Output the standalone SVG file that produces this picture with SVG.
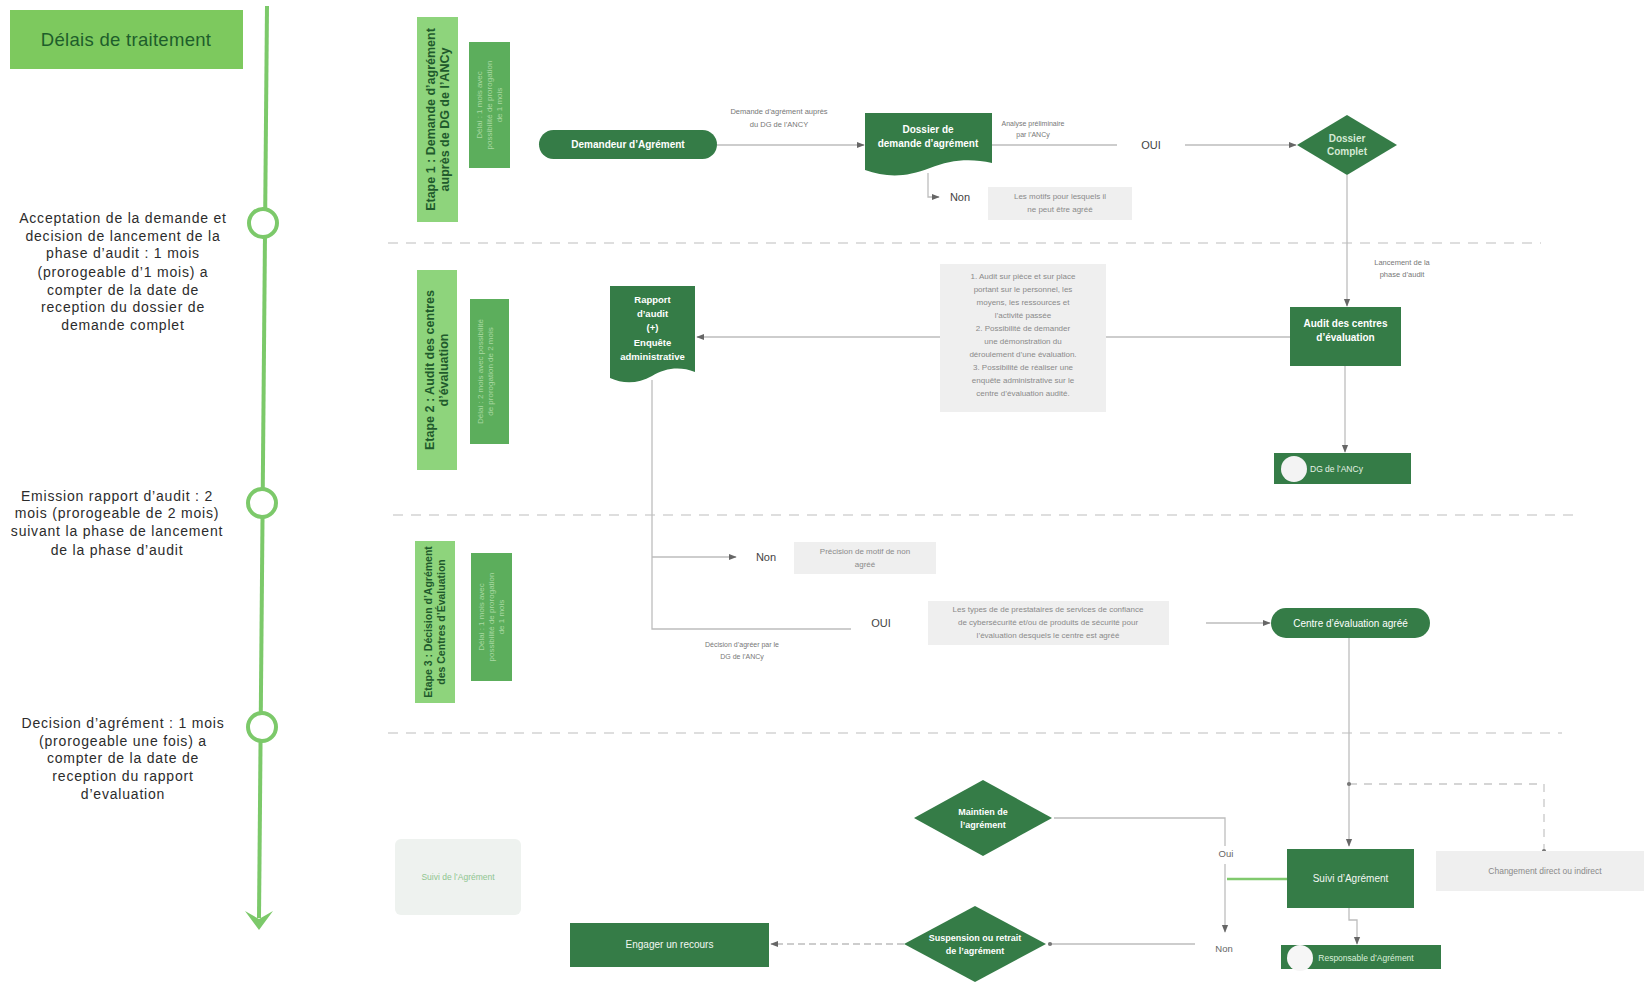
<svg xmlns="http://www.w3.org/2000/svg" width="1644" height="983" viewBox="0 0 1644 983">
<defs>
<style>
text{font-family:"Liberation Sans",Arial,sans-serif}
.node{fill:#357c47}
.nt{fill:#ffffff;font-size:10px;font-weight:bold;text-anchor:middle}
.ntl{fill:#f2f7f2;font-size:10px;text-anchor:middle}
.note{fill:#efefef}
.nn{fill:#8a8a8a;font-size:8px;text-anchor:middle}
.lbl{fill:#777;font-size:7.5px;text-anchor:middle}
.yn{fill:#444;font-size:11px;text-anchor:middle}
.conn{fill:none;stroke:#bdbdbd;stroke-width:1.3}
.sep{fill:none;stroke:#d4d4d4;stroke-width:1.3;stroke-dasharray:10 8}
.left{fill:#2c2c2c;font-size:14px;letter-spacing:0.8px;text-anchor:middle}
.stage{fill:#8ed47c}
.stage2{fill:#5cae5c}
.st{fill:#1f5a2c;font-size:12.5px;font-weight:bold;text-anchor:middle}
.st2{fill:#a9d9a2;font-size:8px;text-anchor:middle}
.tl{fill:#ffffff;stroke:#7cc96a;stroke-width:4}
</style>
<marker id="arr" viewBox="0 0 10 10" refX="9" refY="5" markerWidth="6" markerHeight="6" orient="auto-start-reverse">
<path d="M0,1 L10,5 L0,9 Z" fill="#666"/>
</marker>
<marker id="dot" viewBox="0 0 10 10" refX="5" refY="5" markerWidth="4" markerHeight="4">
<circle cx="5" cy="5" r="4" fill="#777"/>
</marker>
</defs>
<rect width="1644" height="983" fill="#ffffff"/>

<!-- Timeline -->
<g id="timeline">
<rect x="10" y="10" width="233" height="59" fill="#7dc95e"/>
<text x="126" y="46" style="font-size:18.5px;fill:#1d5e2b;text-anchor:middle;letter-spacing:0.3px">Délais de traitement</text>
<line x1="267" y1="6" x2="259" y2="918" stroke="#7cc96a" stroke-width="4"/>
<path d="M245,911 L259,930 L273,911 L259,919 Z" fill="#7cc96a"/>
<circle class="tl" cx="263" cy="223" r="14"/>
<circle class="tl" cx="262" cy="503" r="14"/>
<circle class="tl" cx="262" cy="727" r="14"/>
<text class="left" x="123" y="223">Acceptation de la demande et</text>
<text class="left" x="123" y="241">decision de lancement de la</text>
<text class="left" x="123" y="258">phase d’audit : 1 mois</text>
<text class="left" x="123" y="277">(prorogeable d’1 mois) a</text>
<text class="left" x="123" y="295">compter de la date de</text>
<text class="left" x="123" y="312">reception  du dossier de</text>
<text class="left" x="123" y="330">demande complet</text>
<text class="left" x="117" y="501">Emission rapport d’audit : 2</text>
<text class="left" x="117" y="518">mois (prorogeable de 2 mois)</text>
<text class="left" x="117" y="536">suivant la phase de lancement</text>
<text class="left" x="117" y="555">de la phase d’audit</text>
<text class="left" x="123" y="728">Decision d’agrément : 1 mois</text>
<text class="left" x="123" y="746">(prorogeable une fois) a</text>
<text class="left" x="123" y="763">compter de la date de</text>
<text class="left" x="123" y="781">reception  du rapport</text>
<text class="left" x="123" y="799">d’evaluation</text>
</g>

<!-- Separators -->
<g id="separators">
<line class="sep" x1="388" y1="243" x2="1541" y2="243"/>
<line class="sep" x1="393" y1="515" x2="1573" y2="515"/>
<line class="sep" x1="388" y1="733" x2="1562" y2="733"/>
</g>

<!-- Stage labels -->
<g id="stage1">
<rect class="stage" x="417" y="17" width="41" height="205"/>
<g transform="translate(437.5,119.5) rotate(-90)">
<text class="st" y="-3">Etape 1 : Demande d’agrément</text>
<text class="st" y="11">auprès de DG de l’ANCy</text>
</g>
<rect class="stage2" x="469" y="42" width="41" height="126"/>
<g transform="translate(489.5,105) rotate(-90)">
<text class="st2" y="-8">Délai : 1 mois avec</text>
<text class="st2" y="2">possibilité de prorogation</text>
<text class="st2" y="12">de 1 mois</text>
</g>
</g>
<g id="stage2">
<rect class="stage" x="417" y="270" width="40" height="200"/>
<g transform="translate(437,370) rotate(-90)">
<text class="st" y="-3">Etape 2 : Audit des centres</text>
<text class="st" y="11">d’évaluation</text>
</g>
<rect class="stage2" x="470" y="299" width="39" height="145"/>
<g transform="translate(489.5,371.5) rotate(-90)">
<text class="st2" y="-7">Délai : 2 mois avec possibilité</text>
<text class="st2" y="3">de prorogation de 2 mois</text>
</g>
</g>
<g id="stage3">
<rect class="stage" x="415" y="541" width="40" height="162"/>
<g transform="translate(435,622) rotate(-90)">
<text class="st" y="-3" style="font-size:10.5px">Etape 3 : Décision d’Agrément</text>
<text class="st" y="10" style="font-size:10.5px">des Centres d’Évaluation</text>
</g>
<rect class="stage2" x="471" y="553" width="41" height="128"/>
<g transform="translate(491.5,617) rotate(-90)">
<text class="st2" y="-8">Délai : 1 mois avec</text>
<text class="st2" y="2">possibilité de prorogation</text>
<text class="st2" y="12">de 1 mois</text>
</g>
</g>

<!-- Connectors -->
<g id="connectors">
<line class="conn" x1="717" y1="145" x2="864" y2="145" marker-end="url(#arr)"/>
<line class="conn" x1="992" y1="145" x2="1117" y2="145"/>
<line class="conn" x1="1185" y1="145" x2="1296" y2="145" marker-end="url(#arr)"/>
<path class="conn" d="M928,173 V197 H939" marker-end="url(#arr)"/>
<line class="conn" x1="1347" y1="175" x2="1347" y2="306" marker-end="url(#arr)"/>
<line class="conn" x1="1290" y1="337" x2="697" y2="337" marker-end="url(#arr)"/>
<line class="conn" x1="1345" y1="366" x2="1345" y2="452" marker-end="url(#arr)"/>
<path class="conn" d="M652,380 V629 H851"/>
<line class="conn" x1="652" y1="557" x2="736" y2="557" marker-end="url(#arr)"/>
<line class="conn" x1="1206" y1="623" x2="1270" y2="623" marker-end="url(#arr)"/>
<line class="conn" x1="1349" y1="638" x2="1349" y2="846" marker-end="url(#arr)"/>
<path d="M1349,784 H1544 V851" fill="none" stroke="#c8c8c8" stroke-width="1.3" stroke-dasharray="8 7" marker-start="url(#dot)" marker-end="url(#dot)"/>
<line x1="1287" y1="879" x2="1227" y2="879" stroke="#80c96e" stroke-width="2.5"/>
<path class="conn" d="M1054,818 H1225 V846"/>
<line class="conn" x1="1225" y1="864" x2="1225" y2="932" marker-end="url(#arr)"/>
<line class="conn" x1="1195" y1="944" x2="1050" y2="944" marker-end="url(#dot)"/>
<line class="conn" x1="904" y1="944" x2="771" y2="944" stroke-dasharray="7 4" marker-end="url(#arr)"/>
<path class="conn" d="M1349,908 V920 H1357 V944" marker-end="url(#arr)"/>
<text class="lbl" x="779" y="114">Demande d’agrément auprès</text>
<text class="lbl" x="779" y="127">du DG de l’ANCY</text>
<text class="lbl" x="1033" y="126" style="font-size:7px">Analyse préliminaire</text>
<text class="lbl" x="1033" y="137" style="font-size:7px">par l’ANCy</text>
<text class="yn" x="1151" y="149">OUI</text>
<text class="yn" x="960" y="201">Non</text>
<text class="lbl" x="1402" y="265">Lancement de la</text>
<text class="lbl" x="1402" y="277">phase d’audit</text>
<text class="yn" x="766" y="561">Non</text>
<text class="yn" x="881" y="627">OUI</text>
<text class="lbl" x="742" y="647" style="font-size:7px">Décision d’agréer par le</text>
<text class="lbl" x="742" y="659" style="font-size:7px">DG de l’ANCy</text>
<text class="yn" x="1226" y="857" style="font-size:9.5px;fill:#666">Oui</text>
<text class="yn" x="1224" y="952" style="font-size:9.5px;fill:#666">Non</text>
</g>

<!-- Nodes -->
<g id="demandeur">
<rect class="node" x="539" y="130" width="178" height="29" rx="14.5"/>
<text class="nt" x="628" y="148">Demandeur d’Agrément</text>
</g>
<g id="dossier">
<path class="node" d="M865,113 H992 V163 C970,158 950,160 930,168 C905,178 885,177 865,170 Z"/>
<text class="nt" x="928" y="133">Dossier de</text>
<text class="nt" x="928" y="147">demande d’agrément</text>
</g>
<g id="motifs">
<rect class="note" x="988" y="187" width="144" height="33"/>
<text class="nn" x="1060" y="199">Les motifs pour lesquels il</text>
<text class="nn" x="1060" y="212">ne peut être agréé</text>
</g>
<g id="dossier-complet">
<polygon class="node" points="1347,115 1397,145 1347,175 1297,145"/>
<text class="nt" x="1347" y="142" style="fill:#d4e9d4">Dossier</text>
<text class="nt" x="1347" y="155" style="fill:#d4e9d4">Complet</text>
</g>
<g id="audit">
<rect class="node" x="1290" y="307" width="111" height="59"/>
<text class="nt" x="1345.5" y="327">Audit des centres</text>
<text class="nt" x="1345.5" y="341">d’évaluation</text>
</g>
<g id="audit-note">
<rect class="note" x="940" y="264" width="166" height="148"/>
<text class="nn" x="1023" y="279">1.      Audit sur pièce et sur place</text>
<text class="nn" x="1023" y="292">portant sur le personnel, les</text>
<text class="nn" x="1023" y="305">moyens, les ressources et</text>
<text class="nn" x="1023" y="318">l’activité passée</text>
<text class="nn" x="1023" y="331">2.      Possibilité de demander</text>
<text class="nn" x="1023" y="344">une démonstration du</text>
<text class="nn" x="1023" y="357">déroulement d’une évaluation.</text>
<text class="nn" x="1023" y="370">3.      Possibilité de réaliser une</text>
<text class="nn" x="1023" y="383">enquête administrative sur le</text>
<text class="nn" x="1023" y="396">centre d’évaluation audité.</text>
</g>
<g id="rapport">
<path class="node" d="M610,286 H695 V372 C680,366 665,368 652,376 C638,384 623,384 610,378 Z"/>
<text class="nt" x="652.5" y="303" style="font-size:9.5px">Rapport</text>
<text class="nt" x="652.5" y="317" style="font-size:9.5px">d’audit</text>
<text class="nt" x="652.5" y="331" style="font-size:9.5px">(+)</text>
<text class="nt" x="652.5" y="346" style="font-size:9.5px">Enquête</text>
<text class="nt" x="652.5" y="360" style="font-size:9.5px">administrative</text>
</g>
<g id="dg">
<rect class="node" x="1274" y="453" width="137" height="31"/>
<circle cx="1294" cy="469" r="13" fill="#f3f3f3"/>
<text x="1310" y="472" style="fill:#e6f2e6;font-size:8.5px">DG de l’ANCy</text>
</g>
<g id="non-agree">
<rect class="note" x="794" y="542" width="142" height="32"/>
<text class="nn" x="865" y="554">Précision de motif de non</text>
<text class="nn" x="865" y="567">agréé</text>
</g>
<g id="types">
<rect class="note" x="928" y="601" width="241" height="44"/>
<text class="nn" x="1048" y="612">Les types de de prestataires de services de confiance</text>
<text class="nn" x="1048" y="625">de cybersécurité et/ou de produits de sécurité pour</text>
<text class="nn" x="1048" y="638">l’évaluation desquels le centre est agréé</text>
</g>
<g id="centre-agree">
<rect class="node" x="1271" y="608" width="159" height="30" rx="15"/>
<text class="nt" x="1350.5" y="627" style="font-weight:normal">Centre d’évaluation agréé</text>
</g>
<g id="changement">
<rect class="note" x="1436" y="851" width="208" height="40"/>
<text class="nn" x="1545" y="874" style="font-size:8.5px">Changement  direct ou indirect</text>
</g>
<g id="suivi">
<rect class="node" x="1287" y="849" width="127" height="59"/>
<text class="ntl" x="1350.5" y="882">Suivi d’Agrément</text>
</g>
<g id="responsable">
<rect class="node" x="1281" y="945" width="160" height="24"/>
<circle cx="1300" cy="958" r="13" fill="#f6f6f6"/>
<text x="1366" y="961" style="fill:#dcefdc;font-size:8.5px;text-anchor:middle">Responsable d’Agrément</text>
</g>
<g id="maintien">
<polygon class="node" points="983,780 1052,818 983,856 914,818"/>
<text class="nt" x="983" y="815" style="font-size:9px">Maintien de</text>
<text class="nt" x="983" y="828" style="font-size:9px">l’agrément</text>
</g>
<g id="suspension">
<polygon class="node" points="975,906 1046,944 975,982 904,944"/>
<text class="nt" x="975" y="941" style="font-size:9px">Suspension ou retrait</text>
<text class="nt" x="975" y="954" style="font-size:9px">de l’agrément</text>
</g>
<g id="recours">
<rect class="node" x="570" y="923" width="199" height="44"/>
<text class="ntl" x="669.5" y="948">Engager un recours</text>
</g>
<g id="suivi-label">
<rect x="395" y="839" width="126" height="76" rx="6" fill="#eef2ef"/>
<text x="458" y="880" style="fill:#8fc58f;font-size:8.5px;text-anchor:middle">Suivi de l’Agrément</text>
</g>
</svg>
